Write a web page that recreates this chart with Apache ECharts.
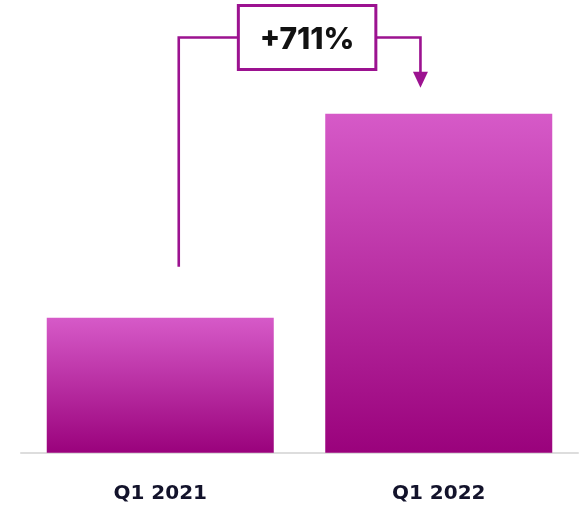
<!DOCTYPE html>
<html>
<head>
<meta charset="utf-8">
<script src="https://cdn.jsdelivr.net/npm/echarts@6/dist/echarts.min.js"></script>
<style>
  html, body { margin: 0; padding: 0; background: #ffffff; }
  #chart { width: 583px; height: 515px; }
</style>
</head>
<body>
<div id="chart"></div>
<script>
var categories = ['Q1 2021', 'Q1 2022'];
var values = [135, 339];
var changeLabel = '+711%';

var chart = echarts.init(document.getElementById('chart'), null, { renderer: 'canvas' });

var barGradient = new echarts.graphic.LinearGradient(0, 0, 0, 1, [
  { offset: 0, color: '#d65ac8' },
  { offset: 1, color: '#9a027c' }
]);
var accent = '#9c1290';

chart.setOption({
  animation: false,
  grid: { left: 21, right: 5, top: 52.7, bottom: 62.3 },
  xAxis: {
    type: 'category',
    data: categories,
    axisLine: { show: true, lineStyle: { color: '#dddddd', width: 2 } },
    axisTick: { show: false },
    axisLabel: {
      margin: 31,
      fontFamily: 'DejaVu Sans',
      fontWeight: 'bold',
      fontSize: 20,
      lineHeight: 20,
      color: '#13132b'
    }
  },
  yAxis: {
    type: 'value',
    min: 0,
    max: 400,
    show: false,
    splitLine: { show: false }
  },
  series: [{
    type: 'bar',
    data: values,
    barWidth: 227,
    itemStyle: { color: barGradient }
  }]
});

var p1 = chart.convertToPixel({ seriesIndex: 0 }, [0, values[0]]);
var p2 = chart.convertToPixel({ seriesIndex: 0 }, [1, values[1]]);
var leftX = p1[0] + 18.5;
var rightX = p2[0] - 18.3;
var lineY = 37.5;
var boxW = 137.5, boxH = 64;
var boxCX = (leftX + rightX) / 2 + 7.5;
var boxL = boxCX - boxW / 2, boxR = boxCX + boxW / 2;
var arrowTipY = p2[1] - 26;
var arrowH = 16, arrowHalf = 7.5;

chart.setOption({
  graphic: [
    {
      type: 'polyline',
      shape: { points: [[leftX, p1[1] - 51], [leftX, lineY], [boxL, lineY]] },
      style: { stroke: accent, lineWidth: 2.6, fill: null }
    },
    {
      type: 'polyline',
      shape: { points: [[boxR, lineY], [rightX, lineY], [rightX, arrowTipY - arrowH + 1]] },
      style: { stroke: accent, lineWidth: 2.6, fill: null }
    },
    {
      type: 'polygon',
      shape: { points: [[rightX - arrowHalf, arrowTipY - arrowH], [rightX + arrowHalf, arrowTipY - arrowH], [rightX, arrowTipY]] },
      style: { fill: accent }
    },
    {
      type: 'rect',
      shape: { x: boxL, y: lineY - boxH / 2, width: boxW, height: boxH },
      style: { stroke: accent, lineWidth: 3, fill: '#ffffff' }
    },
    {
      type: 'text',
      x: boxCX,
      y: lineY + 2.5,
      style: {
        text: changeLabel,
        fontFamily: 'Inter',
        fontWeight: 800,
        fontSize: 30,
        fill: '#111111',
        align: 'center',
        verticalAlign: 'middle'
      }
    }
  ]
});
</script>
</body>
</html>
